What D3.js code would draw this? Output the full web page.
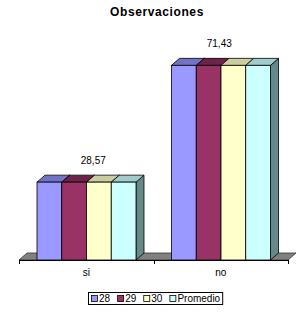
<!DOCTYPE html>
<html>
<head>
<meta charset="utf-8">
<script src="https://cdn.jsdelivr.net/npm/d3@7"></script>
<style>
  body { margin: 0; background: #fff; }
  text { font-family: "Liberation Sans", Arial, sans-serif; }
</style>
</head>
<body>
<div id="chart"></div>
<script>
// data
var categories = ["si", "no"];
var seriesNames = ["28", "29", "30", "Promedio"];
var values28 = [28.57, 71.43];
var values29 = [28.57, 71.43];
var values30 = [28.57, 71.43];
var valuesProm = [28.57, 71.43];
var labelValues = ["28,57", "71,43"];

var fills = ["#9999ff", "#993366", "#ffffcc", "#ccffff"];
var tops = ["#7373c6", "#6e2449", "#cccca0", "#a0cccc"];
var sides = ["#5c5c99", "#5c1f3d", "#99997a", "#668a8a"];

var width = 300,
  height = 314;
var dx = 8,
  dy = 7; // 3d depth

var svg = d3
  .select("#chart")
  .append("svg")
  .attr("width", width)
  .attr("height", height);

svg.append("rect").attr("width", width).attr("height", height).attr("fill", "#fff");

var x = d3.scaleBand().domain(categories).range([19, 288]);
var x1 = d3
  .scaleBand()
  .domain(seriesNames)
  .range([18, x.bandwidth() - 17.5]);
var y = d3.scaleLinear().domain([0, 80]).range([260, 42]);

// title
svg
  .append("text")
  .attr("x", 157)
  .attr("y", 16)
  .attr("text-anchor", "middle")
  .attr("font-size", 12)
  .attr("font-weight", "bold")
  .attr("letter-spacing", 0.6)
  .text("Observaciones");

// floor
var y0 = y(0);
svg
  .append("path")
  .attr(
    "d",
    "M" + x.range()[0] + "," + y0 +
      "L" + x.range()[1] + "," + y0 +
      "L" + (x.range()[1] + dx) + "," + (y0 - dy) +
      "L" + (x.range()[0] + dx) + "," + (y0 - dy) + "Z"
  )
  .attr("fill", "#808080")
  .attr("stroke", "#333")
  .attr("stroke-width", 0.8);

// bars
var allSeries = [values28, values29, values30, valuesProm];
var bars = [];
categories.forEach(function (c, ci) {
  seriesNames.forEach(function (s, si) {
    bars.push({ cat: c, ci: ci, series: s, si: si, value: allSeries[si][ci] });
  });
});

var g = svg
  .selectAll(".bar")
  .data(bars)
  .enter()
  .append("g")
  .attr("class", "bar");

g.each(function (d) {
  var sel = d3.select(this);
  var x0 = x(d.cat) + x1(d.series),
    w = x1.bandwidth(),
    yt = y(d.value);
  // right side
  sel
    .append("path")
    .attr(
      "d",
      "M" + (x0 + w) + "," + y0 +
        "L" + (x0 + w) + "," + yt +
        "L" + (x0 + w + dx) + "," + (yt - dy) +
        "L" + (x0 + w + dx) + "," + (y0 - dy) + "Z"
    )
    .attr("fill", sides[d.si])
    .attr("stroke", "#000")
    .attr("stroke-width", 0.8);
  // top
  sel
    .append("path")
    .attr(
      "d",
      "M" + x0 + "," + yt +
        "L" + (x0 + w) + "," + yt +
        "L" + (x0 + w + dx) + "," + (yt - dy) +
        "L" + (x0 + dx) + "," + (yt - dy) + "Z"
    )
    .attr("fill", tops[d.si])
    .attr("stroke", "#000")
    .attr("stroke-width", 0.8);
  // front
  sel
    .append("rect")
    .attr("x", x0)
    .attr("y", yt)
    .attr("width", w)
    .attr("height", y0 - yt)
    .attr("fill", fills[d.si])
    .attr("stroke", "#000")
    .attr("stroke-width", 0.8);
});

// baseline and ticks
svg
  .append("line")
  .attr("x1", x.range()[0])
  .attr("x2", x.range()[1])
  .attr("y1", y0 + 0.5)
  .attr("y2", y0 + 0.5)
  .attr("stroke", "#000");
var tickX = [x.range()[0], x(categories[1]), x.range()[1]];
svg
  .selectAll(".tick")
  .data(tickX)
  .enter()
  .append("line")
  .attr("x1", (d) => Math.round(d) + 0.5)
  .attr("x2", (d) => Math.round(d) + 0.5)
  .attr("y1", y0)
  .attr("y2", y0 + 4)
  .attr("stroke", "#000");

// category labels
svg
  .selectAll(".cat")
  .data(categories)
  .enter()
  .append("text")
  .attr("x", (d) => x(d) + x.bandwidth() / 2)
  .attr("y", 276)
  .attr("text-anchor", "middle")
  .attr("font-size", 10)
  .text((d) => d);

// value labels
var labelShift = [7, -1.5];
svg
  .selectAll(".vlabel")
  .data(categories)
  .enter()
  .append("text")
  .attr("x", (d, i) => x(d) + x.bandwidth() / 2 + labelShift[i])
  .attr("y", (d, i) => y(valuesProm[i]) - dy - 11)
  .attr("text-anchor", "middle")
  .attr("font-size", 10)
  .text((d, i) => labelValues[i]);

// legend
var legend = svg.append("g");
var lx = 91,
  ly = 298;
var box = legend
  .append("rect")
  .attr("x", 88.5)
  .attr("y", 292.5)
  .attr("height", 12)
  .attr("fill", "#fff")
  .attr("stroke", "#000");
seriesNames.forEach(function (s, i) {
  legend
    .append("rect")
    .attr("x", lx + 0.5)
    .attr("y", ly - 2.5)
    .attr("width", 6)
    .attr("height", 6)
    .attr("fill", fills[i])
    .attr("stroke", "#000")
    .attr("stroke-width", 0.8);
  var t = legend
    .append("text")
    .attr("x", lx + 8)
    .attr("y", ly + 4)
    .attr("font-size", 10)
    .text(s);
  lx += 8 + t.node().getComputedTextLength() + 7;
});
box.attr("width", lx - 88 - 5);
</script>
</body>
</html>
